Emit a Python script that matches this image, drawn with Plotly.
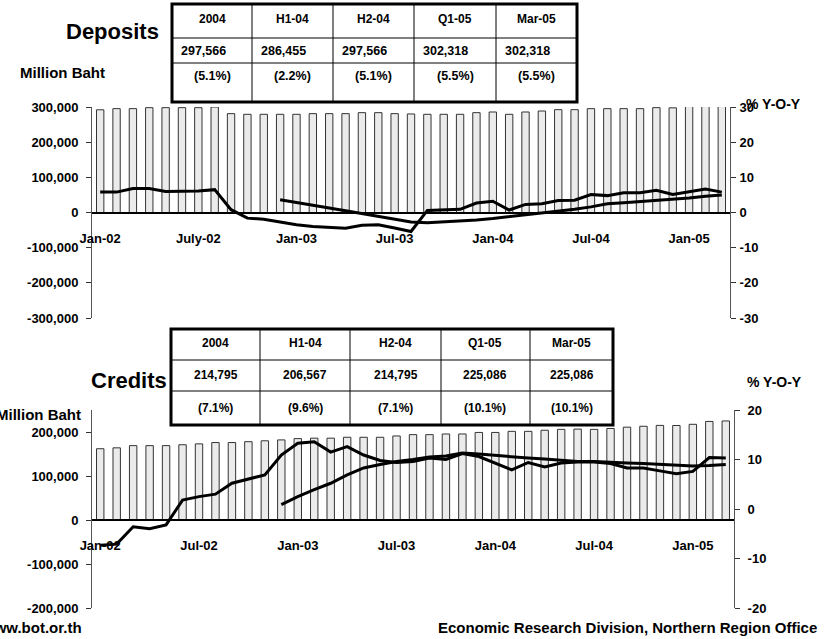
import plotly.graph_objects as go

# ---------------- data ----------------
MON = ["Jan", "Feb", "Mar", "Apr", "May", "Jun", "Jul", "Aug", "Sep", "Oct", "Nov", "Dec"]
months = [f"{m}-{y:02d}" for y in (2, 3, 4, 5) for m in MON][:39]

dep_tick_labels = ["Jan-02", "July-02", "Jan-03", "Jul-03", "Jan-04", "Jul-04", "Jan-05"]
cred_tick_labels = ["Jan-02", "Jul-02", "Jan-03", "Jul-03", "Jan-04", "Jul-04", "Jan-05"]

# Deposits (million baht)
deposits = [292000, 295300, 295300, 298100, 298100, 298100, 298100, 300000,
            281100, 279200, 279200, 279200, 279200, 281100, 281100, 281100,
            283900, 283900, 281100, 280200, 279200, 279200, 279200, 283900,
            285800, 279200, 285800, 288600, 292400, 292400, 295300, 295300,
            295300, 295300, 298100, 297600, 302800, 302800, 302300]
# Deposits % Y-O-Y
dep_yoy = [5.8, 5.8, 6.8, 6.8, 6.0, 6.0, 6.1, 6.5, 0.8, -1.6, -1.9, -2.7,
           -3.5, -4.0, -4.3, -4.5, -3.6, -3.5, -4.4, -5.4, 0.6, 0.7, 0.9, 2.7,
           3.2, 0.7, 2.3, 2.5, 3.4, 3.5, 5.1, 4.8, 5.6, 5.6, 6.3, 5.1, 5.8, 6.7, 5.8]
dep_yoy_avg = [None] * 11 + [3.6, 2.9, 2.1, 1.3, 0.5, -0.3, -1.1, -1.9, -2.7,
                             -2.9, -2.7, -2.4, -2.1, -1.7, -1.2, -0.7, -0.2, 0.3,
                             0.9, 1.6, 2.5, 2.8, 3.1, 3.4, 3.7, 4.1, 4.6, 5.0]

# Credits (million baht)
credits = [162000, 164000, 169000, 169000, 169000, 171000, 173000, 176000,
           176000, 178000, 180000, 182000, 185000, 186000, 186000, 188000,
           188000, 188000, 191000, 194000, 194000, 195500, 195500, 199000,
           199000, 201500, 201500, 204000, 206000, 206600, 206000, 208000,
           211000, 213000, 215000, 214800, 217500, 224000, 225100]
cred_yoy = [-7.3, -7.1, -3.6, -4.0, -3.2, 1.8, 2.5, 3.0, 5.2, 6.1, 6.9, 10.9,
            13.3, 13.6, 11.5, 12.6, 10.9, 9.8, 9.4, 9.6, 10.3, 10.0, 11.2, 10.6,
            9.3, 7.9, 9.4, 8.5, 9.3, 9.5, 9.5, 9.2, 8.3, 8.3, 7.7, 7.1, 7.6, 10.4, 10.3]
cred_yoy_avg = [None] * 11 + [0.9, 2.5, 3.9, 5.2, 6.9, 8.3, 9.0, 9.6, 10.0,
                              10.5, 10.7, 11.3, 11.1, 10.8, 10.5, 10.3, 10.1, 9.8,
                              9.6, 9.6, 9.4, 9.3, 9.2, 9.0, 8.8, 8.7, 8.8, 9.0]

dep_left_ticks = [-300000, -200000, -100000, 0, 100000, 200000, 300000]
dep_right_ticks = [-30, -20, -10, 0, 10, 20, 30]
cred_left_ticks = [-200000, -100000, 0, 100000, 200000]
cred_right_ticks = [-20, -10, 0, 10, 20]

table_headers = ["2004", "H1-04", "H2-04", "Q1-05", "Mar-05"]
dep_table_values = ["297,566", "286,455", "297,566", "302,318", "302,318"]
dep_table_growth = ["(5.1%)", "(2.2%)", "(5.1%)", "(5.5%)", "(5.5%)"]
cred_table_values = ["214,795", "206,567", "214,795", "225,086", "225,086"]
cred_table_growth = ["(7.1%)", "(9.6%)", "(7.1%)", "(10.1%)", "(10.1%)"]

# ---------------- geometry helpers ----------------
W, H = 836, 639
def px(x):
    return x / W
def py(y):
    return 1 - y / H

FONT = "Liberation Sans"
def f(size, color="black"):
    return dict(family=FONT, size=size, color=color, weight="bold")

fig = go.Figure()

bar_style = dict(marker=dict(color="#EBEBEB", line=dict(color="#333333", width=1)), width=0.45)
line_style = dict(mode="lines", line=dict(color="black", width=3), connectgaps=False)

# Top chart
fig.add_trace(go.Bar(x=months, y=deposits, xaxis="x", yaxis="y", **bar_style))
fig.add_trace(go.Scatter(x=months, y=dep_yoy, xaxis="x", yaxis="y2", **line_style))
fig.add_trace(go.Scatter(x=months, y=dep_yoy_avg, xaxis="x", yaxis="y2", **line_style))
# Bottom chart
fig.add_trace(go.Bar(x=months, y=credits, xaxis="x2", yaxis="y3", **bar_style))
fig.add_trace(go.Scatter(x=months, y=cred_yoy, xaxis="x2", yaxis="y4", **line_style))
fig.add_trace(go.Scatter(x=months, y=cred_yoy_avg, xaxis="x2", yaxis="y4", **line_style))

n = len(months)
xr = [-0.5, n - 0.5]
bound_ticks = [i - 0.5 for i in range(0, n, 6)]

top_dom_x = [px(92), px(730)]
top_dom_y = [py(318), py(107)]
bot_dom_x = [px(92), px(734)]
bot_dom_y = [py(608), py(410)]
top_zero = py(212.5)
bot_zero = py(520)

def main_x(domain, pos, labels):
    return dict(type="category", domain=domain, anchor="free", position=pos,
                range=xr, showline=True, linecolor="black", linewidth=1.5,
                ticks="", tickvals=months[0::6], ticktext=labels, automargin=False,
                tickfont=f(13), ticklabelstandoff=14, showgrid=False, zeroline=False)

def tick_x(over, pos, direction):
    return dict(overlaying=over, anchor="free", position=pos, type="linear",
                range=xr, tickvals=bound_ticks, ticks=direction, ticklen=5,
                tickcolor="#333", tickwidth=1, showticklabels=False, automargin=False,
                showline=False, showgrid=False, zeroline=False)

def left_y(domain, anchor, rng, vals):
    return dict(domain=domain, anchor=anchor, range=rng, tickvals=vals,
                ticktext=[f"{v:,}" for v in vals], ticks="outside", ticklen=5,
                tickcolor="#333", showline=True, linecolor="#555", linewidth=1,
                automargin=False,
                tickfont=f(13), ticklabelstandoff=5, showgrid=False, zeroline=False)

def right_y(over, anchor, rng, vals, standoff):
    return dict(overlaying=over, anchor=anchor, side="right", range=rng, tickvals=vals,
                ticktext=[str(v) for v in vals], ticks="outside", ticklen=5,
                tickcolor="#333", showline=True, linecolor="#555", linewidth=1,
                automargin=False,
                tickfont=f(13), ticklabelstandoff=standoff, showgrid=False, zeroline=False)

def tick_y(over, anchor, side, rng, vals):
    return dict(overlaying=over, anchor=anchor, side=side, range=rng, tickvals=vals,
                ticks="inside", ticklen=5, tickcolor="#333", showticklabels=False,
                automargin=False,
                showline=False, showgrid=False, zeroline=False)

fig.update_layout(
    width=W, height=H, margin=dict(l=0, r=0, t=0, b=0, autoexpand=False),
    paper_bgcolor="white", plot_bgcolor="rgba(0,0,0,0)", showlegend=False,
    xaxis=main_x(top_dom_x, top_zero, dep_tick_labels),
    xaxis2=main_x(bot_dom_x, bot_zero, cred_tick_labels),
    xaxis3=tick_x("x", top_zero, "outside"),
    xaxis5=tick_x("x", top_zero, "inside"),
    xaxis4=tick_x("x2", bot_zero, "outside"),
    xaxis6=tick_x("x2", bot_zero, "inside"),
    yaxis=left_y(top_dom_y, "x", [-300000, 300000], dep_left_ticks),
    yaxis2=right_y("y", "x", [-30, 30], dep_right_ticks, 1),
    yaxis5=tick_y("y", "x", "left", [-300000, 300000], dep_left_ticks),
    yaxis6=tick_y("y", "x", "right", [-30, 30], dep_right_ticks),
    yaxis3=left_y(bot_dom_y, "x2", [-200000, 250000], cred_left_ticks),
    yaxis4=right_y("y3", "x2", [-20, 20], cred_right_ticks, 5),
    yaxis7=tick_y("y3", "x2", "left", [-200000, 250000], cred_left_ticks),
    yaxis8=tick_y("y3", "x2", "right", [-20, 20], cred_right_ticks),
)

shapes = []
annotations = []

def ann(text, x, y, size, xanchor="center"):
    annotations.append(dict(text=text, x=px(x), y=py(y), xref="paper", yref="paper",
                            xanchor=xanchor, yanchor="middle", showarrow=False,
                            font=f(size)))

def hline(x0, x1, y, w=1):
    shapes.append(dict(type="line", xref="paper", yref="paper", x0=px(x0), x1=px(x1),
                       y0=py(y), y1=py(y), line=dict(color="black", width=w)))

def vline(x, y0, y1, w=1):
    shapes.append(dict(type="line", xref="paper", yref="paper", x0=px(x), x1=px(x),
                       y0=py(y0), y1=py(y1), line=dict(color="black", width=w)))

def rect(x0, y0, x1, y1, w=3):
    shapes.append(dict(type="rect", xref="paper", yref="paper", x0=px(x0), x1=px(x1),
                       y0=py(y1), y1=py(y0), line=dict(color="black", width=w),
                       fillcolor="white", layer="above"))

# Top table
tcols = [172, 252, 333, 414, 496, 577]
rect(172, 4, 577, 102)
for c in tcols[1:-1]:
    vline(c, 4, 102)
hline(172, 577, 38)
hline(172, 577, 63)
for i in range(5):
    cx = (tcols[i] + tcols[i + 1]) / 2
    ann(table_headers[i], cx, 19, 12)
    ann(dep_table_values[i], tcols[i] + 7, 51, 12.5, "left")
    ann(dep_table_growth[i], cx, 76, 12.5)

# Bottom table
bcols = [171, 260, 350, 441, 530, 613]
rect(171, 329, 613, 425)
for c in bcols[1:-1]:
    vline(c, 329, 425)
hline(171, 613, 360)
hline(171, 613, 391)
for i in range(5):
    cx = (bcols[i] + bcols[i + 1]) / 2
    ann(table_headers[i], cx, 343, 12)
    ann(cred_table_values[i], cx, 375, 12)
    ann(cred_table_growth[i], cx, 408, 12)

# Titles and labels
ann("Deposits", 161, 31, 22, "right")
ann("Million Baht", 18, 73, 15, "left")
ann("% Y-O-Y", 744, 104, 14, "left")
ann("Credits", 169, 380, 22, "right")
ann("Million Baht", 83, 414, 15, "right")
ann("% Y-O-Y", 745, 382, 14, "left")
ann("www.bot.or.th", 84, 627, 15, "right")
ann("Economic Research Division, Northern Region Office", 819, 627, 15, "right")

fig.update_layout(shapes=shapes, annotations=annotations)
fig.write_html("out.html", config={"displayModeBar": False},
               post_script="document.body.style.margin='0';document.body.style.overflow='hidden';")
